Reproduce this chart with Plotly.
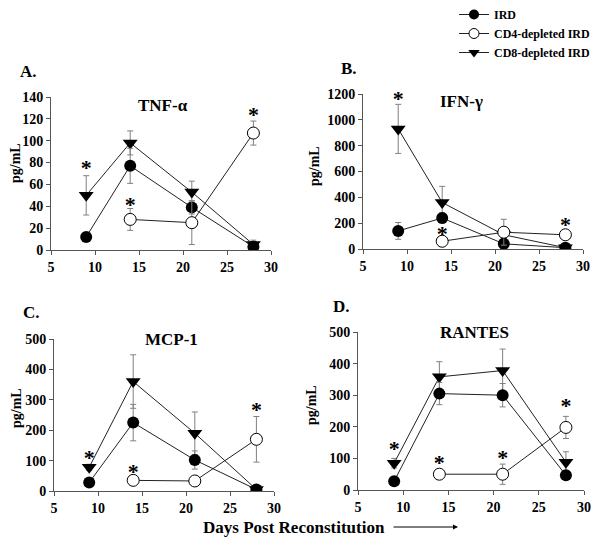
import plotly.graph_objects as go

# days post reconstitution
days = [9, 14, 21, 28]
days_cd4 = [14, 21, 28]

# TNF-alpha (pg/mL)
tnf_ird = [12, 77, 39, 3]
tnf_ird_err = [3, 16, 6, 3]
tnf_cd4 = [28, 25, 107]
tnf_cd4_err = [10, 20, 11]
tnf_cd8 = [50, 98, 53, 5]
tnf_cd8_err = [18, 11, 10, 4]
tnf_star_x = [9, 14, 28]
tnf_star_y = [74, 40, 122]

# IFN-gamma (pg/mL)
ifn_ird = [140, 240, 40, 10]
ifn_ird_err = [65, 40, 20, 10]
ifn_cd4 = [60, 130, 110]
ifn_cd4_err = [15, 100, 20]
ifn_cd8 = [930, 360, 110, 10]
ifn_cd8_err = [190, 125, 30, 10]
ifn_star_x = [9, 14, 28]
ifn_star_y = [1150, 105, 175]

# MCP-1 (pg/mL)
mcp_ird = [28, 225, 102, 5]
mcp_ird_err = [8, 60, 30, 5]
mcp_cd4 = [35, 33, 170]
mcp_cd4_err = [8, 8, 75]
mcp_cd8 = [78, 360, 190, 5]
mcp_cd8_err = [10, 88, 70, 5]
mcp_star_x = [9, 14, 28]
mcp_star_y = [105, 56, 262]

# RANTES (pg/mL)
ran_ird = [28, 305, 300, 47]
ran_ird_err = [5, 35, 37, 8]
ran_cd4 = [50, 50, 198]
ran_cd4_err = [10, 32, 35]
ran_cd8 = [85, 358, 378, 88]
ran_cd8_err = [15, 48, 68, 33]
ran_star_x = [9, 14, 21, 28]
ran_star_y = [126, 80, 96, 262]

panels = [
    ('x', 'y', tnf_ird, tnf_ird_err, tnf_cd4, tnf_cd4_err, tnf_cd8, tnf_cd8_err, tnf_star_x, tnf_star_y),
    ('x2', 'y2', ifn_ird, ifn_ird_err, ifn_cd4, ifn_cd4_err, ifn_cd8, ifn_cd8_err, ifn_star_x, ifn_star_y),
    ('x3', 'y3', mcp_ird, mcp_ird_err, mcp_cd4, mcp_cd4_err, mcp_cd8, mcp_cd8_err, mcp_star_x, mcp_star_y),
    ('x4', 'y4', ran_ird, ran_ird_err, ran_cd4, ran_cd4_err, ran_cd8, ran_cd8_err, ran_star_x, ran_star_y),
]

FONT = 'Liberation Serif'
# the page body has an 8px margin, so the figure is 8px smaller than the window
OFF = 8
W, H = 600 - OFF, 548 - OFF

fig = go.Figure()

for i, (xa, ya, ird, ird_e, cd4, cd4_e, cd8, cd8_e, sx, sy) in enumerate(panels):
    err = dict(color='#808080', thickness=1, width=3)
    fig.add_trace(go.Scatter(x=days, y=cd8, xaxis=xa, yaxis=ya, mode='lines+markers',
                             name='CD8-depleted IRD', showlegend=False,
                             line=dict(color='#222', width=1),
                             marker=dict(symbol='triangle-down', size=13, color='black'),
                             error_y=dict(type='data', array=cd8_e, **err)))
    fig.add_trace(go.Scatter(x=days, y=ird, xaxis=xa, yaxis=ya, mode='lines+markers',
                             name='IRD', showlegend=False,
                             line=dict(color='#222', width=1),
                             marker=dict(symbol='circle', size=12, color='black'),
                             error_y=dict(type='data', array=ird_e, **err)))
    fig.add_trace(go.Scatter(x=days_cd4, y=cd4, xaxis=xa, yaxis=ya, mode='lines+markers',
                             name='CD4-depleted IRD', showlegend=False,
                             line=dict(color='#222', width=1),
                             marker=dict(symbol='circle', size=12, color='white',
                                         line=dict(color='black', width=1)),
                             error_y=dict(type='data', array=cd4_e, **err)))
    # significance stars
    fig.add_trace(go.Scatter(x=sx, y=sy, xaxis=xa, yaxis=ya, mode='text', text=['*'] * len(sx),
                             textposition='middle center', cliponaxis=False,
                             textfont=dict(family=FONT, size=22, color='black', weight='bold'),
                             showlegend=False, hoverinfo='skip'))

# legend entries
fig.add_trace(go.Scatter(x=[None], y=[None], mode='lines+markers', name='IRD', legendrank=1,
                         line=dict(color='#222', width=1),
                         marker=dict(symbol='circle', size=10, color='black')))
fig.add_trace(go.Scatter(x=[None], y=[None], mode='lines+markers', name='CD4-depleted IRD',
                         legendrank=2, line=dict(color='#222', width=1),
                         marker=dict(symbol='circle', size=10, color='white',
                                     line=dict(color='black', width=1))))
fig.add_trace(go.Scatter(x=[None], y=[None], mode='lines+markers', name='CD8-depleted IRD',
                         legendrank=3, line=dict(color='#222', width=1),
                         marker=dict(symbol='triangle-down', size=10, color='black')))


def px_x(px):
    return (px - OFF) / W


def px_y(py):
    return 1 - (py - OFF) / H


axis_common = dict(showline=True, linecolor='#555', linewidth=1, ticks='outside',
                   ticklen=4, tickcolor='#555', showgrid=False, zeroline=False,
                   tickfont=dict(family=FONT, size=14, color='black', weight='bold'))

x_common = dict(axis_common, range=[5, 30], tickvals=[5, 10, 15, 20, 25, 30])

fig.update_layout(
    width=W, height=H,
    margin=dict(l=0, r=0, t=0, b=0, autoexpand=False),
    plot_bgcolor='white', paper_bgcolor='white',
    font=dict(family=FONT, color='black'),
    xaxis=dict(x_common, domain=[px_x(51), px_x(271)], anchor='y'),
    yaxis=dict(axis_common, domain=[px_y(250), px_y(97)], range=[0, 140], dtick=20, anchor='x'),
    xaxis2=dict(x_common, domain=[px_x(363), px_x(583)], anchor='y2'),
    yaxis2=dict(axis_common, domain=[px_y(249), px_y(94)], range=[0, 1200], dtick=200, anchor='x2'),
    xaxis3=dict(x_common, domain=[px_x(54), px_x(274)], anchor='y3'),
    yaxis3=dict(axis_common, domain=[px_y(491), px_y(339)], range=[0, 500], dtick=100, anchor='x3'),
    xaxis4=dict(x_common, domain=[px_x(358), px_x(584)], anchor='y4'),
    yaxis4=dict(axis_common, domain=[px_y(490), px_y(332)], range=[0, 500], dtick=100, anchor='x4'),
    legend=dict(x=px_x(454), y=px_y(0), xanchor='left', yanchor='top',
                font=dict(family=FONT, size=12, color='black', weight='bold'),
                bgcolor='rgba(0,0,0,0)', tracegroupgap=0),
    showlegend=True,
)


def label(text, px, py, size, angle=0):
    fig.add_annotation(text=text, x=px_x(px), y=px_y(py), xref='paper', yref='paper',
                       xanchor='center', yanchor='middle',
                       showarrow=False, textangle=angle,
                       font=dict(family=FONT, size=size, color='black', weight='bold'))


label('A.', 28, 72, 17)
label('B.', 349, 69, 17)
label('C.', 31, 312, 17)
label('D.', 341, 306, 17)
label('TNF-α', 163, 106, 17)
label('IFN-γ', 461, 102, 17)
label('MCP-1', 171, 339, 17)
label('RANTES', 474, 332, 17)
label('pg/mL', 16, 163, 14, -90)
label('pg/mL', 315, 166, 14, -90)
label('pg/mL', 16, 408, 14, -90)
label('pg/mL', 311, 405, 14, -90)
label('Days Post Reconstitution', 294, 527, 17)

# arrow after the x axis label
fig.add_annotation(x=px_x(458), y=px_y(527), xref='paper', yref='paper', text='',
                   showarrow=True, ax=-66, ay=0, arrowhead=2, arrowsize=1, arrowwidth=1,
                   arrowcolor='black')

fig.write_html('out.html')
